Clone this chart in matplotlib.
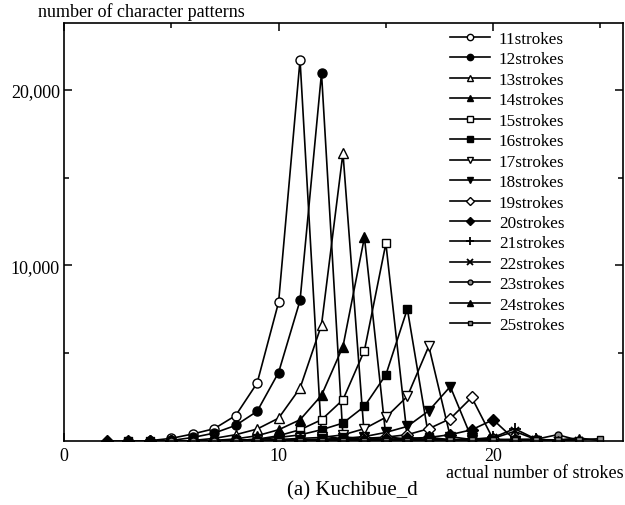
import matplotlib
matplotlib.use("Agg")
import matplotlib.pyplot as plt
from matplotlib.ticker import FixedLocator, FuncFormatter

plt.rcParams['font.family'] = ['Liberation Serif', 'DejaVu Serif']

labels = ["11strokes", "12strokes", "13strokes", "14strokes", "15strokes",
          "16strokes", "17strokes", "18strokes", "19strokes", "20strokes",
          "21strokes", "22strokes", "23strokes", "24strokes", "25strokes"]

# first x of each series, then consecutive values
x_start = [4, 5, 6, 7, 3, 8, 9, 10, 4, 2, 8, 9, 5, 10, 9]

v11 = [20, 150, 400, 700, 1450, 3300, 7900, 21700, 300, 120, 60, 30, 10]
v12 = [30, 200, 450, 890, 1690, 3900, 8000, 20950, 250, 100, 50, 20]
v13 = [30, 150, 360, 680, 1300, 3010, 6610, 16400, 200, 80, 40, 20]
v14 = [30, 120, 300, 640, 1210, 2600, 5380, 11600, 250, 100, 40, 20]
v15 = [0, 0, 0, 0, 0, 30, 100, 300, 640, 1210, 2350, 5150, 11250, 200, 80, 30, 10]
v16 = [30, 100, 200, 350, 640, 1020, 1970, 3770, 7520, 200, 80, 30, 10]
v17 = [30, 80, 150, 200, 350, 700, 1350, 2540, 5400, 250, 80, 30, 10]
v18 = [30, 60, 100, 150, 250, 490, 830, 1720, 3100, 150, 60, 20, 10]
v19 = [0, 0, 10, 20, 30, 40, 50, 60, 80, 100, 150, 220, 360, 700, 1270, 2480, 100, 40, 10]
v20 = [0, 0, 0, 0, 10, 20, 20, 30, 30, 40, 50, 60, 80, 100, 150, 200, 360, 640, 1210, 80, 30, 10]
v21 = [0, 10, 10, 20, 20, 30, 30, 40, 50, 60, 80, 100, 200, 700, 100, 30]
v22 = [0, 10, 10, 20, 20, 30, 30, 40, 50, 60, 80, 150, 550, 80, 20, 10]
v23 = [0, 0, 0, 0, 10, 10, 10, 20, 20, 20, 30, 30, 40, 50, 60, 80, 100, 100, 360, 30]
v24 = [0, 10, 10, 10, 20, 20, 20, 30, 30, 40, 50, 60, 80, 60, 170, 20]
v25 = [0, 10, 10, 10, 10, 20, 20, 20, 20, 30, 30, 30, 40, 50, 60, 80, 130]

values = [v11, v12, v13, v14, v15, v16, v17, v18, v19, v20, v21, v22, v23, v24, v25]

styles = [
    dict(marker='o', mfc='white', ms=6.5),
    dict(marker='o', mfc='black', ms=6.5),
    dict(marker='^', mfc='white', ms=7),
    dict(marker='^', mfc='black', ms=7),
    dict(marker='s', mfc='white', ms=6),
    dict(marker='s', mfc='black', ms=6),
    dict(marker='v', mfc='white', ms=7),
    dict(marker='v', mfc='black', ms=7),
    dict(marker='D', mfc='white', ms=6.5),
    dict(marker='D', mfc='black', ms=6.5),
    dict(marker='+', mfc='black', ms=8, mew=1.3),
    dict(marker='x', mfc='black', ms=6, mew=1.3),
    dict(marker='o', mfc='0.55', ms=5),
    dict(marker='^', mfc='black', ms=5.5),
    dict(marker='s', mfc='0.55', ms=5),
]

fig = plt.figure(figsize=(6.25, 5.06), dpi=100)
ax = fig.add_axes([64/625, 1-442/506, (623-64)/625, (442-24)/506])

for lab, xs0, vals, st in zip(labels, x_start, values, styles):
    xs = list(range(xs0, xs0 + len(vals)))
    kw = dict(st)
    kw.setdefault('mew', 1.0)
    ax.plot(xs, vals, color='black', lw=1.2, mec='black', label=lab, **kw)

ax.set_xlim(0, 26.05)
ax.set_ylim(0, 23800)

ax.xaxis.set_major_locator(FixedLocator([0, 10, 20]))
ax.xaxis.set_minor_locator(FixedLocator([5, 15, 25]))
ax.yaxis.set_major_locator(FixedLocator([10000, 20000]))
ax.yaxis.set_minor_locator(FixedLocator([5000, 15000]))
ax.yaxis.set_major_formatter(FuncFormatter(lambda v, p: f"{int(v):,}"))

ax.tick_params(which='both', direction='in', top=True, right=True, width=1.1,
               labelsize=13)
ax.tick_params(axis='x', pad=4)
ax.tick_params(axis='y', pad=3)
ax.tick_params(which='major', length=6)
ax.tick_params(which='minor', length=3.5)
for s in ax.spines.values():
    s.set_linewidth(1.2)

leg = ax.legend(loc='upper left', frameon=False, fontsize=12.3, markerscale=0.7,
                handlelength=2.34, handletextpad=0.53, labelspacing=0.26,
                borderaxespad=0, borderpad=0,
                bbox_to_anchor=(450/625, 1-32/506), bbox_transform=fig.transFigure)

fig.text(38/625, 1-12/506, "number of character patterns", fontsize=13,
         ha='left', va='center')
fig.text(624/625, 1-473/506, "actual number of strokes", fontsize=13,
         ha='right', va='center')
fig.text(352/625, 1-491/506, "(a) Kuchibue_d", fontsize=15,
         ha='center', va='center')

fig.savefig("out.png", dpi=100)
